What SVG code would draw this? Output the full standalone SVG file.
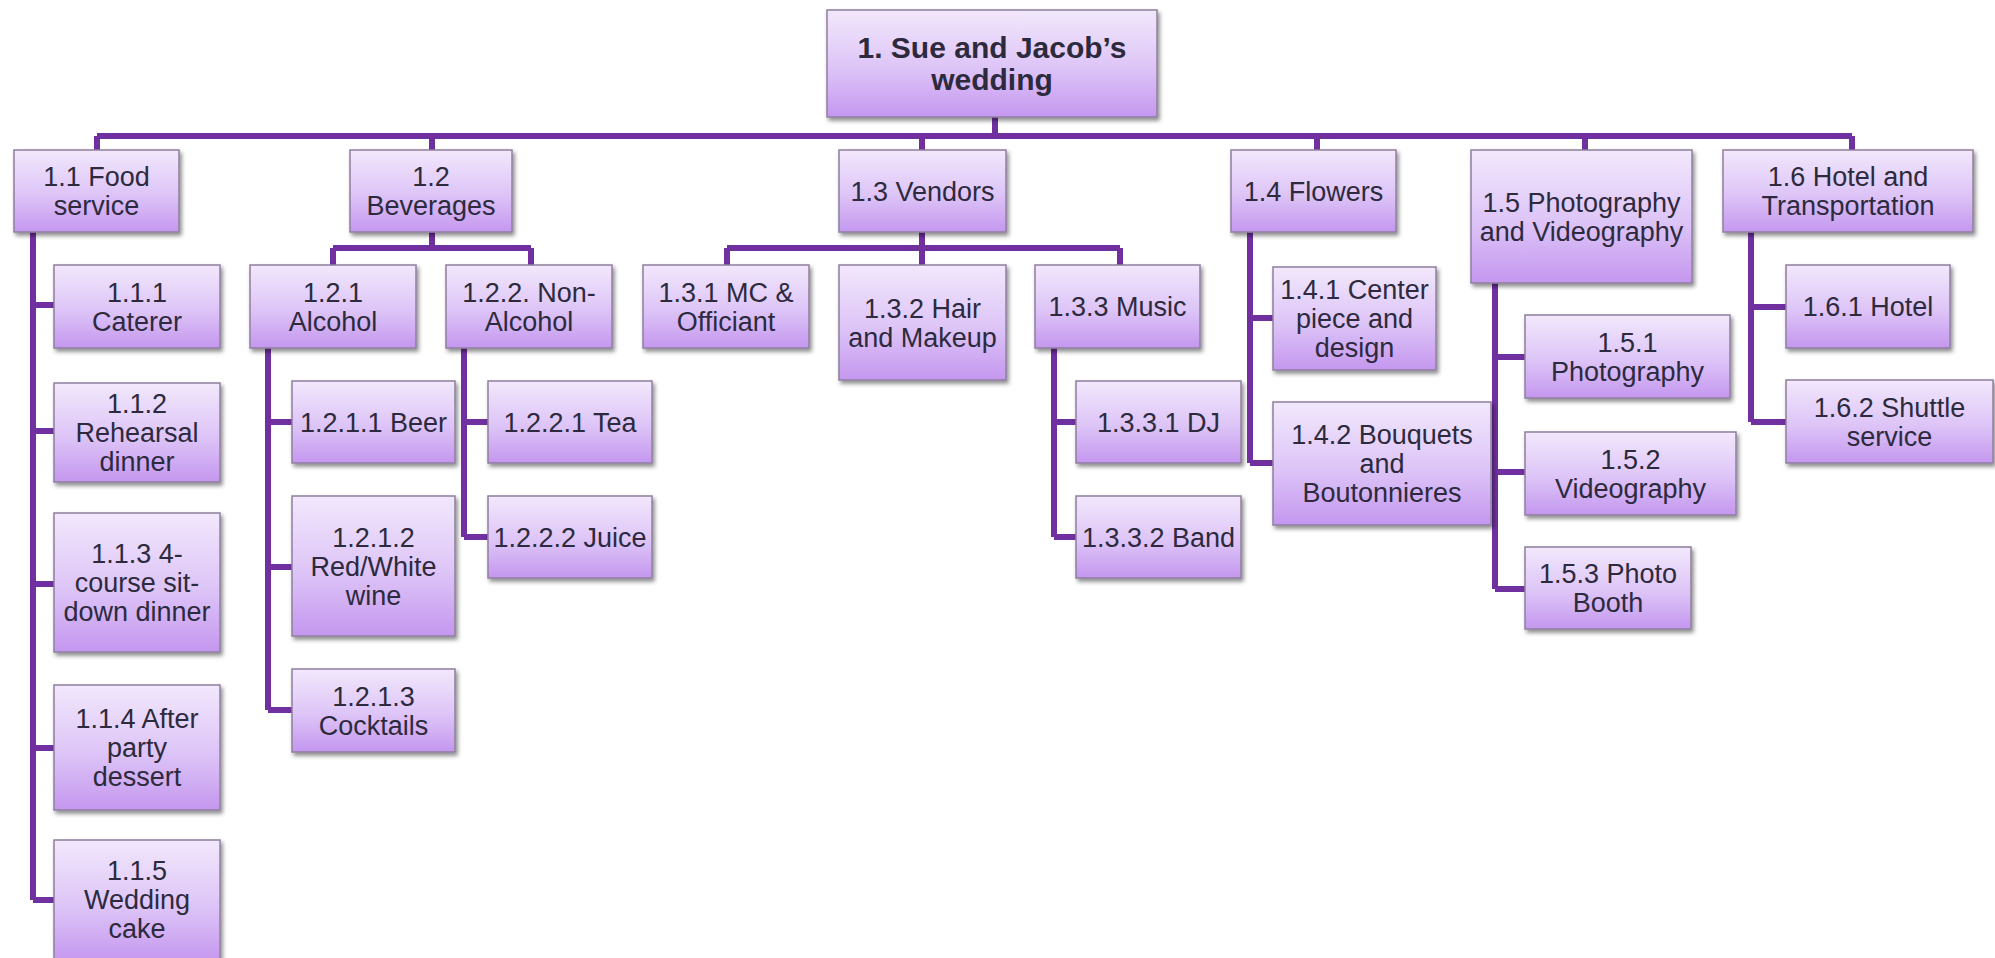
<svg xmlns="http://www.w3.org/2000/svg" width="1995" height="958" viewBox="0 0 1995 958">
<defs>
<linearGradient id="g" x1="0" y1="0" x2="0" y2="1">
<stop offset="0" stop-color="#F2E8FC"/>
<stop offset="0.55" stop-color="#DDC4F7"/>
<stop offset="1" stop-color="#C497EF"/>
</linearGradient>
<filter id="sh" x="-10%" y="-10%" width="125%" height="135%">
<feDropShadow dx="2" dy="3" stdDeviation="2" flood-color="#000" flood-opacity="0.45"/>
</filter>
<style>
.b{fill:url(#g);stroke:#8f7f9e;stroke-width:1.5;filter:url(#sh)}
.t{font-family:"Liberation Sans",Arial,sans-serif;font-size:27px;fill:#2d2a3e;text-anchor:middle}
.r{font-family:"Liberation Sans",Arial,sans-serif;font-size:30px;font-weight:bold;fill:#2d2a3e;text-anchor:middle}
.c{fill:none;stroke:#7030A0;stroke-width:6}
</style>
</defs>
<rect width="1995" height="958" fill="#fff"/>
<g id="connectors" class="c">
<path d="M995 117V136M97 136H1852M97 136V150M432 136V150M922 136V150M1317 136V150M1585 136V150M1852 136V150"/>
<path d="M33 232V900M33 305H54M33 431H54M33 584H54M33 748H54M33 900H54"/>
<path d="M432 232V248M333 248H531M333 248V265M531 248V265"/>
<path d="M268 348V710M268 422H292M268 567H292M268 710H292"/>
<path d="M464 348V537M464 422H488M464 537H488"/>
<path d="M922 232V265M727 248H1120M727 248V265M1120 248V265"/>
<path d="M1054 348V537M1054 422H1076M1054 537H1076"/>
<path d="M1250 232V463M1250 318H1273M1250 463H1273"/>
<path d="M1495 283V589M1495 357H1525M1495 472H1525M1495 589H1525"/>
<path d="M1751 232V422M1751 307H1786M1751 422H1786"/>
</g>
<g id="n1"><rect class="b" x="827" y="10" width="330" height="107"/><text class="r"><tspan x="992" y="58">1. Sue and Jacob’s</tspan><tspan x="992" y="90">wedding</tspan></text></g>
<g id="n1_1"><rect class="b" x="14" y="150" width="165" height="82"/><text class="t"><tspan x="96.5" y="186">1.1 Food</tspan><tspan x="96.5" y="215">service</tspan></text></g>
<g id="n1_2"><rect class="b" x="350" y="150" width="162" height="82"/><text class="t"><tspan x="431" y="186">1.2</tspan><tspan x="431" y="215">Beverages</tspan></text></g>
<g id="n1_3"><rect class="b" x="839" y="150" width="167" height="82"/><text class="t" x="922.5" y="200.5">1.3 Vendors</text></g>
<g id="n1_4"><rect class="b" x="1231" y="150" width="165" height="82"/><text class="t" x="1313.5" y="200.5">1.4 Flowers</text></g>
<g id="n1_5"><rect class="b" x="1471" y="150" width="221" height="133"/><text class="t"><tspan x="1581.5" y="211.5">1.5 Photography</tspan><tspan x="1581.5" y="240.5">and Videography</tspan></text></g>
<g id="n1_6"><rect class="b" x="1723" y="150" width="250" height="82"/><text class="t"><tspan x="1848" y="186">1.6 Hotel and</tspan><tspan x="1848" y="215">Transportation</tspan></text></g>
<g id="n1_1_1"><rect class="b" x="54" y="265" width="166" height="83"/><text class="t"><tspan x="137" y="301.5">1.1.1</tspan><tspan x="137" y="330.5">Caterer</tspan></text></g>
<g id="n1_1_2"><rect class="b" x="54" y="383" width="166" height="99"/><text class="t"><tspan x="137" y="413">1.1.2</tspan><tspan x="137" y="442">Rehearsal</tspan><tspan x="137" y="471">dinner</tspan></text></g>
<g id="n1_1_3"><rect class="b" x="54" y="513" width="166" height="139"/><text class="t"><tspan x="137" y="563">1.1.3 4-</tspan><tspan x="137" y="592">course sit-</tspan><tspan x="137" y="621">down dinner</tspan></text></g>
<g id="n1_1_4"><rect class="b" x="54" y="685" width="166" height="125"/><text class="t"><tspan x="137" y="728">1.1.4 After</tspan><tspan x="137" y="757">party</tspan><tspan x="137" y="786">dessert</tspan></text></g>
<g id="n1_1_5"><rect class="b" x="54" y="840" width="166" height="122"/><text class="t"><tspan x="137" y="879.5">1.1.5</tspan><tspan x="137" y="908.5">Wedding</tspan><tspan x="137" y="937.5">cake</tspan></text></g>
<g id="n1_2_1"><rect class="b" x="250" y="265" width="166" height="83"/><text class="t"><tspan x="333" y="301.5">1.2.1</tspan><tspan x="333" y="330.5">Alcohol</tspan></text></g>
<g id="n1_2_2"><rect class="b" x="446" y="265" width="166" height="83"/><text class="t"><tspan x="529" y="301.5">1.2.2. Non-</tspan><tspan x="529" y="330.5">Alcohol</tspan></text></g>
<g id="n1_2_1_1"><rect class="b" x="292" y="381" width="163" height="82"/><text class="t" x="373.5" y="431.5">1.2.1.1 Beer</text></g>
<g id="n1_2_1_2"><rect class="b" x="292" y="496" width="163" height="140"/><text class="t"><tspan x="373.5" y="546.5">1.2.1.2</tspan><tspan x="373.5" y="575.5">Red/White</tspan><tspan x="373.5" y="604.5">wine</tspan></text></g>
<g id="n1_2_1_3"><rect class="b" x="292" y="669" width="163" height="83"/><text class="t"><tspan x="373.5" y="705.5">1.2.1.3</tspan><tspan x="373.5" y="734.5">Cocktails</tspan></text></g>
<g id="n1_2_2_1"><rect class="b" x="488" y="381" width="164" height="82"/><text class="t" x="570" y="431.5">1.2.2.1 Tea</text></g>
<g id="n1_2_2_2"><rect class="b" x="488" y="496" width="164" height="82"/><text class="t" x="570" y="546.5">1.2.2.2 Juice</text></g>
<g id="n1_3_1"><rect class="b" x="643" y="265" width="166" height="83"/><text class="t"><tspan x="726" y="301.5">1.3.1 MC &amp;</tspan><tspan x="726" y="330.5">Officiant</tspan></text></g>
<g id="n1_3_2"><rect class="b" x="839" y="265" width="167" height="115"/><text class="t"><tspan x="922.5" y="317.5">1.3.2 Hair</tspan><tspan x="922.5" y="346.5">and Makeup</tspan></text></g>
<g id="n1_3_3"><rect class="b" x="1035" y="265" width="165" height="83"/><text class="t" x="1117.5" y="316">1.3.3 Music</text></g>
<g id="n1_3_3_1"><rect class="b" x="1076" y="381" width="165" height="82"/><text class="t" x="1158.5" y="431.5">1.3.3.1 DJ</text></g>
<g id="n1_3_3_2"><rect class="b" x="1076" y="496" width="165" height="82"/><text class="t" x="1158.5" y="546.5">1.3.3.2 Band</text></g>
<g id="n1_4_1"><rect class="b" x="1273" y="267" width="163" height="103"/><text class="t"><tspan x="1354.5" y="299">1.4.1 Center</tspan><tspan x="1354.5" y="328">piece and</tspan><tspan x="1354.5" y="357">design</tspan></text></g>
<g id="n1_4_2"><rect class="b" x="1273" y="402" width="218" height="123"/><text class="t"><tspan x="1382" y="444">1.4.2 Bouquets</tspan><tspan x="1382" y="473">and</tspan><tspan x="1382" y="502">Boutonnieres</tspan></text></g>
<g id="n1_5_1"><rect class="b" x="1525" y="315" width="205" height="83"/><text class="t"><tspan x="1627.5" y="351.5">1.5.1</tspan><tspan x="1627.5" y="380.5">Photography</tspan></text></g>
<g id="n1_5_2"><rect class="b" x="1525" y="432" width="211" height="83"/><text class="t"><tspan x="1630.5" y="468.5">1.5.2</tspan><tspan x="1630.5" y="497.5">Videography</tspan></text></g>
<g id="n1_5_3"><rect class="b" x="1525" y="547" width="166" height="82"/><text class="t"><tspan x="1608" y="583">1.5.3 Photo</tspan><tspan x="1608" y="612">Booth</tspan></text></g>
<g id="n1_6_1"><rect class="b" x="1786" y="265" width="164" height="83"/><text class="t" x="1868" y="316">1.6.1 Hotel</text></g>
<g id="n1_6_2"><rect class="b" x="1786" y="380" width="207" height="83"/><text class="t"><tspan x="1889.5" y="416.5">1.6.2 Shuttle</tspan><tspan x="1889.5" y="445.5">service</tspan></text></g>
</svg>
